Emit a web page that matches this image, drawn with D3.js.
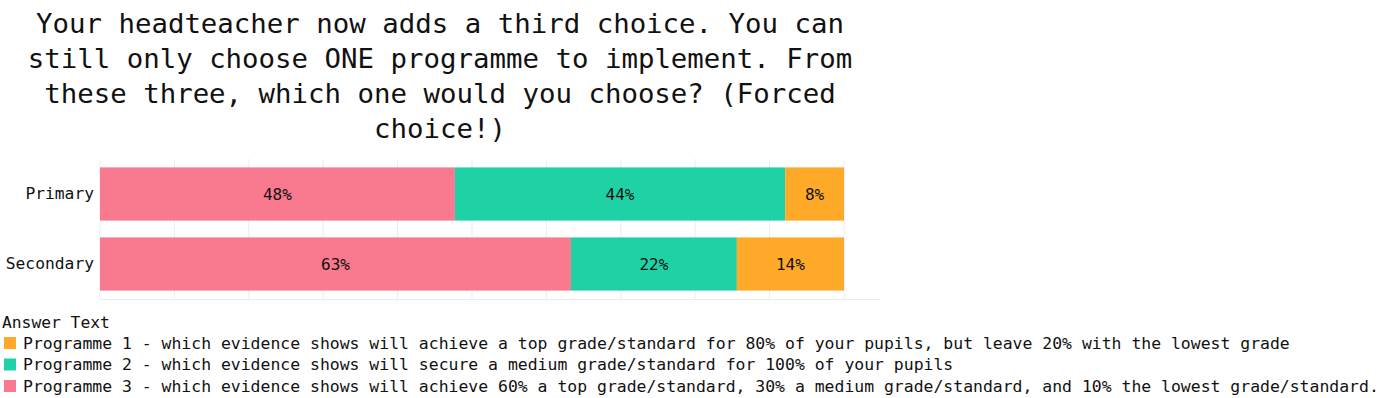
<!DOCTYPE html>
<html>
<head>
<meta charset="utf-8">
<script src="https://cdn.jsdelivr.net/npm/d3@7"></script>
<style>
  body { margin: 0; background: #fff; }
  text { font-family: "DejaVu Sans Mono", "Liberation Mono", monospace; fill: #111; }
</style>
</head>
<body>
<div id="chart"></div>
<script>
(function () {
    // data
    var titleLines = [
        "Your headteacher now adds a third choice. You can",
        "still only choose ONE programme to implement. From",
        "these three, which one would you choose? (Forced",
        "choice!)"
    ];
    var categories = ["Primary", "Secondary"];
    var seriesKeys = ["p3", "p2", "p1"];           // stacking order, left to right
    var programme3 = [0.477, 0.633];
    var programme2 = [0.444, 0.223];
    var programme1 = [0.079, 0.144];
    var xTicks = [0, 0.1, 0.2, 0.3, 0.4, 0.5, 0.6, 0.7, 0.8, 0.9, 1.0];
    var legendTitle = "Answer Text";
    var legendLabels = [
        "Programme 1 - which evidence shows will achieve a top grade/standard for 80% of your pupils, but leave 20% with the lowest grade",
        "Programme 2 - which evidence shows will secure a medium grade/standard for 100% of your pupils",
        "Programme 3 - which evidence shows will achieve 60% a top grade/standard, 30% a medium grade/standard, and 10% the lowest grade/standard."
    ];
    var legendKeys = ["p1", "p2", "p3"];

    // design
    var width = 1383, height = 398;
    var colors = { p1: "#FFA928", p2: "#1FD2A6", p3: "#F9798F" };
    var plot = { left: 100, right: 844, top: 159, bottom: 299 };

    var rows = categories.map(function (c, i) {
        return { cat: c, p3: programme3[i], p2: programme2[i], p1: programme1[i] };
    });

    var svg = d3.select("#chart").append("svg")
        .attr("width", width)
        .attr("height", height);

    // title
    svg.append("g").selectAll("text")
        .data(titleLines)
        .enter().append("text")
        .attr("x", 440)
        .attr("y", function (d, i) { return 33 + i * 35; })
        .attr("text-anchor", "middle")
        .style("font-size", "27.4px")
        .text(function (d) { return d; });

    var x = d3.scaleLinear().domain([0, 1]).range([plot.left, plot.right]);
    var y = d3.scaleBand().domain(categories)
        .range([plot.top, plot.bottom])
        .paddingInner(0.24).paddingOuter(0.12);

    // grid
    svg.append("g").selectAll("line")
        .data(xTicks)
        .enter().append("line")
        .attr("x1", function (d) { return x(d); })
        .attr("x2", function (d) { return x(d); })
        .attr("y1", plot.top)
        .attr("y2", plot.bottom)
        .attr("stroke", "#ececec")
        .attr("stroke-width", 1);
    svg.append("line")
        .attr("x1", plot.left).attr("x2", 881)
        .attr("y1", plot.bottom + 0.5).attr("y2", plot.bottom + 0.5)
        .attr("stroke", "#ececec");

    var stack = d3.stack().keys(seriesKeys);
    var layers = stack(rows);

    var layerG = svg.append("g").selectAll("g")
        .data(layers)
        .enter().append("g")
        .attr("fill", function (d) { return colors[d.key]; });

    layerG.selectAll("rect")
        .data(function (d) { return d; })
        .enter().append("rect")
        .attr("x", function (d) { return x(d[0]); })
        .attr("width", function (d) { return x(d[1]) - x(d[0]); })
        .attr("y", function (d) { return y(d.data.cat); })
        .attr("height", y.bandwidth());

    layerG.selectAll("text")
        .data(function (d) { return d; })
        .enter().append("text")
        .attr("x", function (d) { return (x(d[0]) + x(d[1])) / 2; })
        .attr("y", function (d) { return y(d.data.cat) + y.bandwidth() / 2; })
        .attr("dy", "0.35em")
        .attr("text-anchor", "middle")
        .style("font-size", "16px")
        .text(function (d) { return Math.round((d[1] - d[0]) * 100) + "%"; });

    // y axis labels
    var yAxis = d3.axisLeft(y).tickSize(0).tickPadding(6);
    var yg = svg.append("g")
        .attr("transform", "translate(" + plot.left + ",0)")
        .call(yAxis);
    yg.select(".domain").remove();
    yg.selectAll("text")
        .style("font-family", "'DejaVu Sans Mono', monospace")
        .style("font-size", "16.3px")
        .attr("fill", "#111");

    // legend
    svg.append("text")
        .attr("x", 2).attr("y", 328)
        .style("font-size", "16.3px")
        .text(legendTitle);

    var leg = svg.append("g").selectAll("g")
        .data(legendKeys)
        .enter().append("g")
        .attr("transform", function (d, i) { return "translate(0," + (343 + i * 21.5) + ")"; });
    leg.append("rect")
        .attr("x", 4).attr("y", -6)
        .attr("width", 12).attr("height", 12)
        .attr("fill", function (d) { return colors[d]; });
    leg.append("text")
        .attr("x", 23).attr("dy", "0.35em")
        .style("font-size", "16.45px")
        .text(function (d, i) { return legendLabels[i]; });
})();
</script>
</body>
</html>
